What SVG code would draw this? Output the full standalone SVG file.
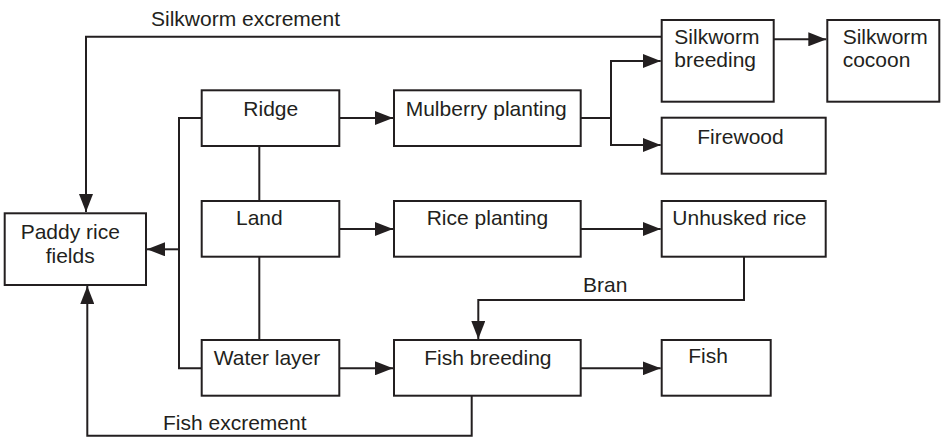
<svg xmlns="http://www.w3.org/2000/svg" width="941" height="437" viewBox="0 0 941 437">
<style>
.box{fill:#fff;stroke:#231f20;stroke-width:2}
.ln{fill:none;stroke:#231f20;stroke-width:2}
.ar{marker-end:url(#ah)}
text{font-family:"Liberation Sans",Arial,sans-serif;font-size:21px;fill:#231f20}
</style>
<defs>
<marker id="ah" markerUnits="userSpaceOnUse" markerWidth="18" markerHeight="14" viewBox="0 0 18 14" refX="18" refY="7" orient="auto">
<path d="M0,0 L18,7 L0,14 z" fill="#231f20"/>
</marker>
</defs>
<rect width="941" height="437" fill="#fff"/>
<g id="connectors">
<polyline class="ln ar" points="661.7,36.7 86,36.7 86,212"/>
<polyline class="ln ar" points="471.7,396 471.7,435.7 87.3,435.7 87.3,286"/>
<polyline class="ln" points="201.7,118 179,118 179,368.3 201.7,368.3"/>
<line class="ln ar" x1="179" y1="249.3" x2="147" y2="249.3"/>
<line class="ln" x1="259.3" y1="146" x2="259.3" y2="201"/>
<line class="ln" x1="259.3" y1="256.7" x2="259.3" y2="340"/>
<line class="ln ar" x1="339.3" y1="118" x2="393" y2="118"/>
<line class="ln ar" x1="339.3" y1="229" x2="393" y2="229"/>
<line class="ln ar" x1="339.3" y1="368.3" x2="393" y2="368.3"/>
<line class="ln" x1="580.7" y1="118" x2="611" y2="118"/>
<polyline class="ln ar" points="611,118 611,61 660.7,61"/>
<polyline class="ln ar" points="611,118 611,145 660.7,145"/>
<line class="ln ar" x1="773.7" y1="39.3" x2="826.3" y2="39.3"/>
<line class="ln ar" x1="580.7" y1="229" x2="660.7" y2="229"/>
<polyline class="ln ar" points="744,256.7 744,300 478.3,300 478.3,339"/>
<line class="ln ar" x1="580.7" y1="368.3" x2="660.7" y2="368.3"/>
<text x="151" y="26">Silkworm excrement</text>
<text x="583" y="292">Bran</text>
<text x="163" y="430">Fish excrement</text>
</g>
<g id="paddy">
<rect class="box" x="4.7" y="213.3" width="141.3" height="71.7"/>
<text x="20.7" y="239">Paddy rice</text>
<text x="45.7" y="263">fields</text>
</g>
<g id="ridge">
<rect class="box" x="201.7" y="90.3" width="137.6" height="55.7"/>
<text x="243.3" y="116">Ridge</text>
</g>
<g id="land">
<rect class="box" x="201.7" y="201" width="137.6" height="55.7"/>
<text x="236" y="225">Land</text>
</g>
<g id="water">
<rect class="box" x="201.7" y="340" width="137.6" height="55.7"/>
<text x="213.7" y="365">Water layer</text>
</g>
<g id="mulberry">
<rect class="box" x="394" y="90.3" width="186.7" height="55.7"/>
<text x="405.7" y="116">Mulberry planting</text>
</g>
<g id="riceplanting">
<rect class="box" x="394" y="201" width="186.7" height="55.7"/>
<text x="426.7" y="225">Rice planting</text>
</g>
<g id="fishbreeding">
<rect class="box" x="394" y="340" width="186.7" height="55.7"/>
<text x="424.3" y="365">Fish breeding</text>
</g>
<g id="silkbreeding">
<rect class="box" x="661.7" y="20" width="112" height="81.7"/>
<text x="674.3" y="44.3">Silkworm</text>
<text x="674.3" y="66.7">breeding</text>
</g>
<g id="cocoon">
<rect class="box" x="827.3" y="20" width="112" height="81.7"/>
<text x="842.7" y="44.3">Silkworm</text>
<text x="842.7" y="66.7">cocoon</text>
</g>
<g id="firewood">
<rect class="box" x="661.7" y="117.7" width="164" height="56"/>
<text x="697.3" y="144">Firewood</text>
</g>
<g id="unhusked">
<rect class="box" x="661.7" y="201" width="164" height="55.7"/>
<text x="672.3" y="225">Unhusked rice</text>
</g>
<g id="fish">
<rect class="box" x="661.7" y="340" width="109" height="55.7"/>
<text x="688.3" y="363.3">Fish</text>
</g>
</svg>
